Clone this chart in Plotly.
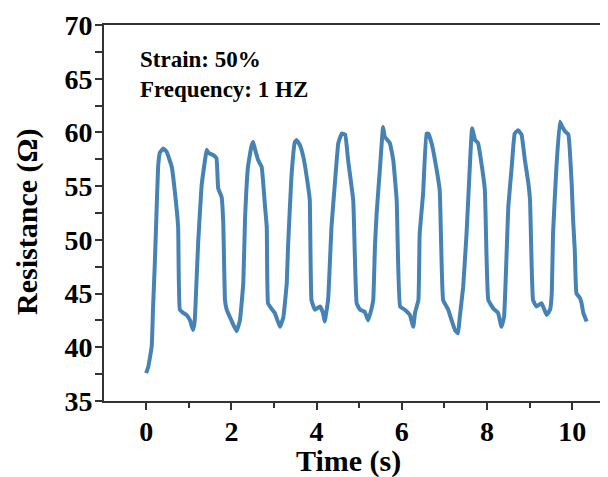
import plotly.graph_objects as go

time_s = [0.00, 0.05, 0.13, 0.16, 0.20, 0.23, 0.28, 0.32, 0.40, 0.48, 0.60, 0.67, 0.75, 0.79, 0.87, 0.95,
          1.03, 1.10, 1.14, 1.18, 1.22, 1.30, 1.38, 1.42, 1.46, 1.57, 1.65, 1.69, 1.77, 1.81, 1.85, 1.89,
          2.00, 2.12, 2.20, 2.28, 2.32, 2.39, 2.47, 2.51, 2.55, 2.63, 2.71, 2.79, 2.83, 2.86, 2.94,
          3.02, 3.14, 3.22, 3.30, 3.33, 3.41, 3.49, 3.53, 3.61, 3.69, 3.80, 3.84, 3.88, 3.96,
          4.08, 4.15, 4.19, 4.27, 4.35, 4.43, 4.51, 4.59, 4.67, 4.74, 4.86, 4.94,
          5.02, 5.13, 5.21, 5.29, 5.33, 5.37, 5.41, 5.49, 5.56, 5.60, 5.72, 5.80, 5.88, 5.96,
          6.07, 6.19, 6.27, 6.31, 6.39, 6.42, 6.50, 6.58, 6.62, 6.70, 6.78, 6.89, 6.97,
          7.09, 7.17, 7.25, 7.32, 7.36, 7.44, 7.52, 7.60, 7.65, 7.72, 7.79, 7.87, 7.95,
          8.03, 8.15, 8.26, 8.34, 8.40, 8.46, 8.50, 8.58, 8.65, 8.73, 8.81, 8.89, 8.97,
          9.01, 9.08, 9.16, 9.28, 9.40, 9.48, 9.52, 9.55, 9.63, 9.71, 9.77, 9.83, 9.91, 9.99,
          10.02, 10.06, 10.10, 10.18, 10.22, 10.26, 10.34]

resistance = [37.6, 38.2, 40.1, 43.5, 47.5, 51.0, 56.8, 58.1, 58.5, 58.2, 56.8, 54.6, 51.2, 43.5, 43.2, 43.0,
              42.5, 41.6, 42.5, 46.0, 49.7, 55.0, 57.4, 58.4, 58.1, 57.9, 57.6, 54.8, 54.0, 51.5, 44.4, 43.5,
              42.5, 41.5, 42.5, 46.0, 51.9, 56.8, 58.7, 59.1, 58.5, 57.4, 56.8, 53.1, 51.2, 44.1, 43.6,
              43.2, 41.9, 42.8, 46.0, 49.4, 55.9, 59.1, 59.3, 58.8, 57.7, 55.0, 53.7, 44.4, 43.5,
              43.8, 43.2, 42.4, 44.4, 51.2, 55.3, 59.0, 59.9, 59.8, 57.4, 53.7, 44.1,
              43.5, 43.3, 42.5, 43.6, 44.4, 49.4, 52.5, 56.8, 60.5, 59.6, 59.0, 57.4, 53.7, 43.8,
              43.5, 43.0, 41.9, 43.2, 44.4, 50.6, 54.3, 59.9, 59.9, 59.0, 57.4, 54.6, 44.4,
              43.5, 42.5, 41.6, 41.3, 42.8, 45.6, 50.6, 57.1, 60.4, 59.3, 59.0, 57.1, 54.6,
              44.4, 43.6, 43.2, 41.9, 42.8, 48.7, 53.1, 56.8, 59.9, 60.2, 59.8, 57.4, 55.3,
              53.7, 44.4, 43.8, 44.1, 43.0, 43.5, 45.0, 50.6, 56.8, 61.0, 60.5, 60.1, 59.8, 55.0,
              51.9, 49.1, 45.0, 44.6, 44.1, 43.2, 42.4]

x_ticks = [0, 2, 4, 6, 8, 10]
y_ticks = [35, 40, 45, 50, 55, 60, 65, 70]
notes = ["Strain: 50%", "Frequency: 1 HZ"]

FONT = "Liberation Serif, Times New Roman, serif"
AXC = "#333333"

fig = go.Figure()
fig.add_trace(go.Scatter(x=time_s, y=resistance, mode="lines",
                         line=dict(color="#4682B4", width=4, shape="spline", smoothing=0.3),
                         showlegend=False))

fig.update_layout(
    width=600, height=469,
    margin=dict(l=96, r=0, t=17, b=76),
    paper_bgcolor="white", plot_bgcolor="white",
    font=dict(family=FONT, color="black"),
)
fig.update_xaxes(
    range=[-0.99, 10.84], tickvals=x_ticks, ticktext=[str(v) for v in x_ticks],
    showgrid=False, zeroline=False, showline=True, linecolor=AXC, linewidth=2, mirror=True,
    ticks="outside", ticklen=7, tickwidth=2, tickcolor=AXC, ticklabelstandoff=-3,
    tickfont=dict(family=FONT, size=28, color="black", weight="bold"),
    minor=dict(dtick=1, tick0=1, ticks="outside", ticklen=5, tickwidth=2, tickcolor=AXC, showgrid=False),
)
fig.update_yaxes(
    range=[35, 70], tickvals=y_ticks, ticktext=[str(v) for v in y_ticks],
    showgrid=False, zeroline=False, showline=True, linecolor=AXC, linewidth=2,
    ticks="outside", ticklen=7, tickwidth=2, tickcolor=AXC, ticklabelstandoff=-3,
    tickfont=dict(family=FONT, size=28, color="black", weight="bold"),
    minor=dict(dtick=2.5, tick0=35, ticks="outside", ticklen=7, tickwidth=2, tickcolor=AXC, showgrid=False),
)

fig.add_annotation(text="Time (s)", xref="paper", yref="paper", x=0.485, y=-0.16,
                   xanchor="center", yanchor="middle", showarrow=False,
                   font=dict(family=FONT, size=30, color="black", weight="bold"))
fig.add_annotation(text="Resistance (Ω)", xref="paper", yref="paper", x=-0.153, y=0.476,
                   xanchor="center", yanchor="middle", textangle=-90, showarrow=False,
                   font=dict(family=FONT, size=30, color="black", weight="bold"))
fig.add_annotation(text=notes[0], xref="x", yref="y", x=-0.195, y=66.8,
                   xanchor="left", yanchor="middle", showarrow=False,
                   font=dict(family=FONT, size=23, color="black", weight="bold"))
fig.add_annotation(text=notes[1], xref="x", yref="y", x=-0.195, y=64.0,
                   xanchor="left", yanchor="middle", showarrow=False,
                   font=dict(family=FONT, size=23, color="black", weight="bold"))

fig.write_html("out.html")
